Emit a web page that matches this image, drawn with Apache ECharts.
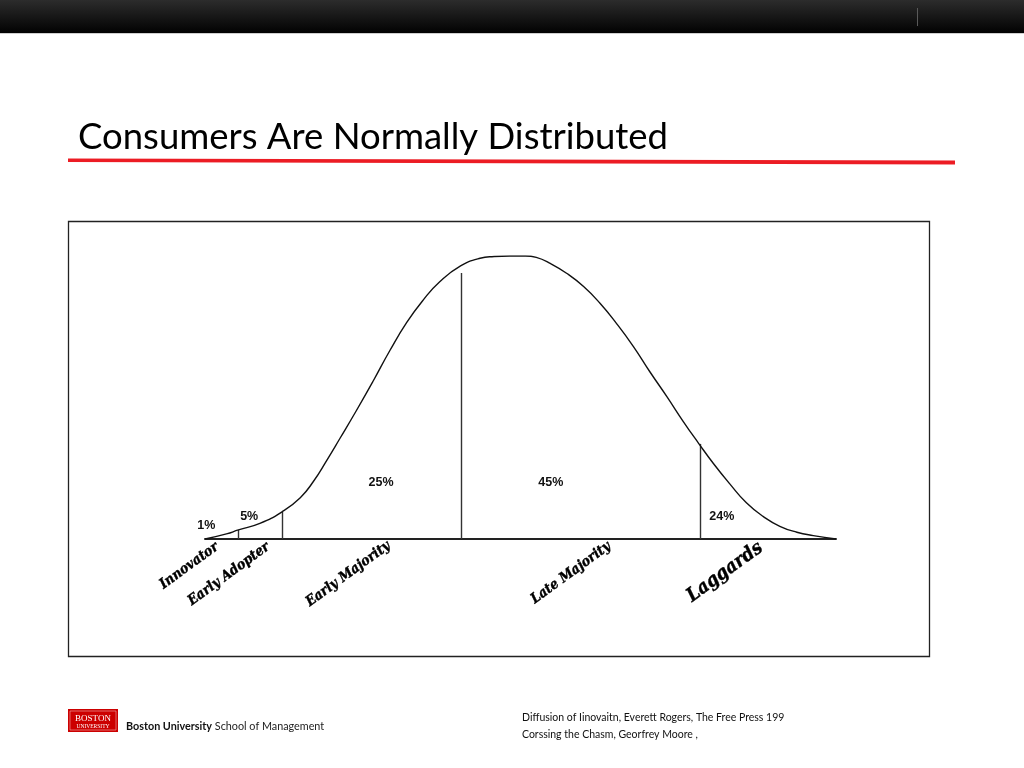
<!DOCTYPE html>
<html>
<head>
<meta charset="utf-8">
<script src="https://cdn.jsdelivr.net/npm/echarts@6/dist/echarts.min.js"></script>
<style>
html,body{margin:0;padding:0;background:#fff;}
#chart{width:1024px;height:768px;}
</style>
</head>
<body>
<div id="chart"></div>
<script>
// Bell curve (x: adoption time, y: relative share of adopters; peak = 100)
const curveX = [0, 3.4, 5.3, 8.7, 12.2, 15.1, 17.2, 19.3, 21.4, 24.0, 26.7, 29.3, 32.0, 34.6, 37.2, 40.5, 43.6, 45.8, 48.3, 50.8, 52.5, 54.7, 57.3, 60.0, 62.6, 65.2, 67.9, 70.5, 73.2, 75.8, 78.2, 80.6, 83.2, 85.8, 88.5, 91.1, 93.8, 96.4, 100];
const curveY = [0, 1.8, 3.2, 5.5, 9.6, 14.6, 20.4, 27.8, 35.6, 45.4, 56.0, 66.6, 76.6, 84.5, 90.9, 96.5, 99.2, 99.8, 100, 100, 99.5, 97.4, 93.9, 89.2, 83.3, 76.2, 68.0, 59.1, 50.3, 41.5, 33.9, 26.6, 19.4, 12.8, 7.9, 4.5, 2.4, 1.2, 0];

// Segment dividers
const dividerX = [5.3, 12.2, 40.5, 78.4];
const dividerTop = [3.2, 9.6, 94.0, 33.6];

// Share labels
const shareLabels = ["1%", "5%", "25%", "45%", "24%"];
const shareX = [0.2, 7.0, 27.9, 54.8, 81.9];
const shareY = [4.9, 8.1, 19.8, 19.8, 8.1];

// Adopter categories
const categories = ["Innovator", "Early Adopter", "Early Majority", "Late Majority", "Laggards"];
const categoryX = [-2.5, 3.8, 22.7, 58.0, 82.4];
const categoryY = [-9.5, -12.4, -12.4, -12.0, -11.7];
const categorySize = [14, 14, 14, 14, 19];

const titleText = "Consumers Are Normally Distributed";
const sources = ["Diffusion of Iinovaitn, Everett Rogers, The Free Press 199", "Corssing the Chasm, Georfrey Moore ,"];

const chart = echarts.init(document.getElementById('chart'), null, {renderer: 'canvas'});

const curveData = curveX.map((x, i) => [x, curveY[i]]);
const dividerData = dividerX.map((x, i) => [x, dividerTop[i]]);
const shareData = shareLabels.map((n, i) => ({name: n, value: [shareX[i], shareY[i]]}));
const catData = categories.map((n, i) => ({
  name: n, value: [categoryX[i], categoryY[i]],
  label: {fontSize: categorySize[i]}
}));

const option = {
  backgroundColor: '#ffffff',
  animation: false,
  grid: {left: 205, right: 188, top: 256, bottom: 229, containLabel: false},
  xAxis: {
    type: 'value', min: 0, max: 100,
    axisLine: {show: true, lineStyle: {color: '#222', width: 2}},
    axisTick: {show: false}, axisLabel: {show: false}, splitLine: {show: false}
  },
  yAxis: {
    type: 'value', min: 0, max: 100, show: false
  },
  graphic: [
    // header bar
    {type: 'rect', left: 0, top: 0, shape: {width: 1024, height: 33},
     style: {fill: new echarts.graphic.LinearGradient(0, 0, 0, 1, [{offset: 0, color: '#2c2c2c'}, {offset: 1, color: '#020202'}])}, z: 10},
    {type: 'rect', left: 0, top: 33, shape: {width: 1024, height: 1}, style: {fill: '#cfcfcf'}, z: 10},
    {type: 'line', shape: {x1: 917.5, y1: 8, x2: 917.5, y2: 26}, style: {stroke: '#5a5a5a', lineWidth: 1}, z: 11},
    // title
    {type: 'text', left: 78, top: 119, style: {text: titleText, font: '36.5px Lato, "Open Sans", sans-serif', fill: '#000'}, z: 10},
    // red rule
    {type: 'polygon', shape: {points: [[68, 158.5], [955, 160.5], [955, 164.5], [68, 162]]}, style: {fill: '#ec1c24'}, z: 10},
    // frame
    {type: 'rect', shape: {x: 68.5, y: 221.5, width: 861, height: 435}, style: {fill: 'none', stroke: '#222', lineWidth: 1.3}, z: 1},
    // BU logo
    {type: 'rect', shape: {x: 68, y: 709, width: 50, height: 23}, style: {fill: '#cc0000'}, z: 10},
    {type: 'rect', shape: {x: 70, y: 711, width: 46, height: 19}, style: {fill: 'none', stroke: '#f3b0b0', lineWidth: 0.6}, z: 11},
    {type: 'text', style: {x: 93, y: 719, text: 'BOSTON', font: '9px "Liberation Serif", serif', fill: '#fff', align: 'center', verticalAlign: 'middle'}, z: 11},
    {type: 'text', style: {x: 93, y: 727, text: 'UNIVERSITY', font: '5.5px "Liberation Serif", serif', fill: '#fff', align: 'center', verticalAlign: 'middle'}, z: 11},
    {type: 'text', style: {x: 126, y: 727, text: '{b|Boston University} School of Management', font: '10.8px Lato, sans-serif', fill: '#222', verticalAlign: 'middle',
      rich: {b: {fontWeight: 'bold', fontSize: 10.8, fontFamily: 'Lato, sans-serif', fill: '#111'}}}, z: 11},
    {type: 'text', style: {x: 522, y: 718, text: sources[0], font: '10.5px Lato, sans-serif', fill: '#111', verticalAlign: 'middle'}, z: 11},
    {type: 'text', style: {x: 522, y: 735, text: sources[1], font: '10.5px Lato, sans-serif', fill: '#111', verticalAlign: 'middle'}, z: 11}
  ],
  series: [
    {
      type: 'line', data: curveData, smooth: 0.5, showSymbol: false, symbol: 'none',
      lineStyle: {color: '#111', width: 1.4}, z: 5
    },
    {
      type: 'custom', data: dividerData, clip: false,
      renderItem: function (params, api) {
        const p0 = api.coord([api.value(0), 0]);
        const p1 = api.coord([api.value(0), api.value(1)]);
        return {type: 'line', shape: {x1: Math.round(p0[0]) + 0.5, y1: p0[1], x2: Math.round(p1[0]) + 0.5, y2: p1[1]},
          style: {stroke: '#333', lineWidth: 1.4}};
      }, z: 4
    },
    {
      type: 'scatter', data: shareData, symbolSize: 0, clip: false, silent: true,
      itemStyle: {color: '#000', opacity: 1},
      label: {show: true, position: 'inside', formatter: '{b}', color: '#111', textBorderWidth: 0, opacity: 1,
        fontFamily: '"Liberation Sans", Arial, sans-serif', fontWeight: 'bold', fontSize: 12.5}
    },
    {
      type: 'scatter', data: catData, symbolSize: 0, clip: false, silent: true,
      itemStyle: {color: '#000', opacity: 1},
      label: {show: true, position: 'inside', formatter: '{b}', color: '#000', rotate: 36, textBorderWidth: 0.4, textBorderColor: '#000', opacity: 1,
        fontFamily: '"DejaVu Serif Condensed", "Liberation Serif", serif', fontStyle: 'italic', fontWeight: 'bold', fontSize: 14}
    }
  ]
};
chart.setOption(option);
</script>
</body>
</html>
